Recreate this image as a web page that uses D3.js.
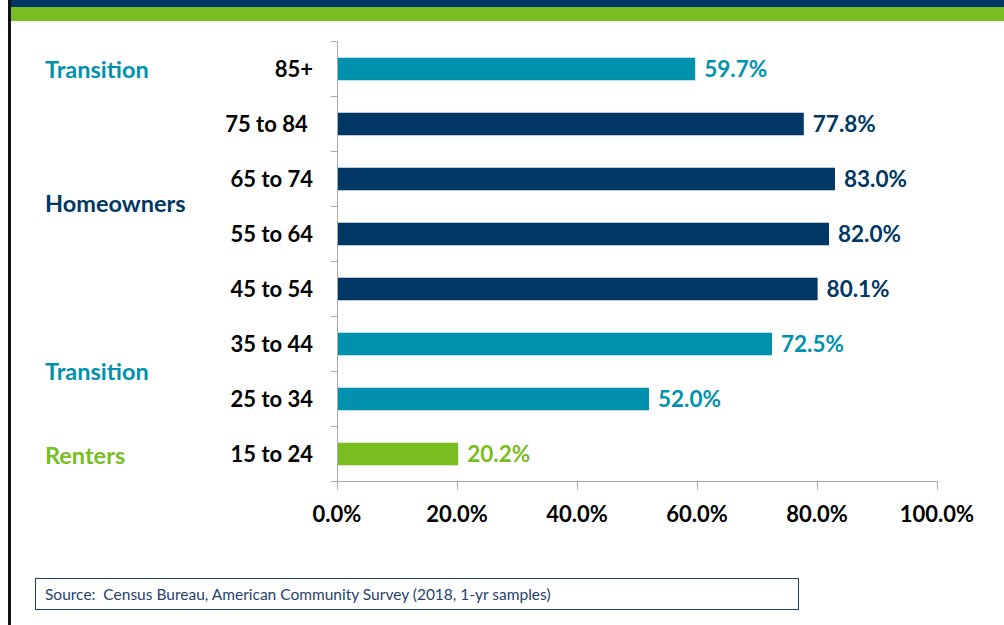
<!DOCTYPE html>
<html>
<head>
<meta charset="utf-8">
<script src="https://cdn.jsdelivr.net/npm/d3@7"></script>
<style>
body { margin:0; background:#fff; }
svg { display:block; font-family: Lato, "Open Sans", sans-serif; }
</style>
</head>
<body>
<div id="chart"></div>
<script>
const ages = ["85+", "75 to 84 ", "65 to 74", "55 to 64", "45 to 54", "35 to 44", "25 to 34", "15 to 24"];
const shares = [59.7, 77.8, 83.0, 82.0, 80.1, 72.5, 52.0, 20.2];
const groups = ["transition", "owner", "owner", "owner", "owner", "transition", "transition", "renter"];
const xTicks = [0, 20, 40, 60, 80, 100];
const groupLabels = [
    {text:"Transition", group:"transition", y:70},
    {text:"Homeowners", group:"owner", y:204},
    {text:"Transition", group:"transition", y:372},
    {text:"Renters", group:"renter", y:456}
];
const source = "Source:  Census Bureau, American Community Survey (2018, 1-yr samples)";

const colores = {transition:"#0091AF", owner:"#003764", renter:"#78BE21"};

const W = 1004, H = 625;
const svg = d3.select("#chart").append("svg").attr("width",W).attr("height",H);

// header bands and left rule
svg.append("rect").attr("x",11).attr("y",0).attr("width",W-11).attr("height",7).attr("fill","#003764");
svg.append("rect").attr("x",11).attr("y",7).attr("width",W-11).attr("height",14).attr("fill","#78BE21");
svg.append("rect").attr("x",8).attr("y",0).attr("width",3).attr("height",H).attr("fill","#111");

const yTop = 41.5, yBottom = 481.5;
const scx = d3.scaleLinear([0,100],[337,937]);
const scy = d3.scaleBand(ages,[yTop,yBottom]).paddingInner(0.59).paddingOuter(0.295);
const band = d3.scaleBand(ages,[yTop,yBottom]);

const g = svg.append("g");

// bars
g.selectAll(".barra")
    .data(ages)
    .join("rect")
    .attr("class","barra")
    .attr("x",scx(0))
    .attr("y",d => scy(d))
    .attr("width",(d,i) => scx(shares[i]) - scx(0))
    .attr("height",scy.bandwidth())
    .attr("fill",(d,i) => colores[groups[i]]);

// axes
const axisColor = "#A7A9B4";
g.append("line").attr("x1",scx(0)+0.5).attr("x2",scx(0)+0.5).attr("y1",yTop).attr("y2",yBottom)
    .attr("stroke",axisColor).attr("stroke-width",1);
g.append("line").attr("x1",scx(0)-6).attr("x2",scx(100)+0.5).attr("y1",yBottom).attr("y2",yBottom)
    .attr("stroke",axisColor).attr("stroke-width",1);

g.selectAll(".ytick")
    .data(ages)
    .join("line")
    .attr("class","ytick")
    .attr("x1",scx(0)-6).attr("x2",scx(0))
    .attr("y1",d => band(d)).attr("y2",d => band(d))
    .attr("stroke",axisColor);

g.selectAll(".xtick")
    .data(xTicks)
    .join("line")
    .attr("class","xtick")
    .attr("x1",d => scx(d)+0.5).attr("x2",d => scx(d)+0.5)
    .attr("y1",yBottom).attr("y2",yBottom+8)
    .attr("stroke",axisColor);

g.selectAll(".xlab")
    .data(xTicks)
    .join("text")
    .attr("class","xlab")
    .attr("x",d => scx(d))
    .attr("y",522)
    .attr("text-anchor","middle")
    .attr("font-size",22)
    .attr("font-weight","bold")
    .attr("fill","#000")
    .text(d => d3.format(".1f")(d) + "%");

// category labels
g.selectAll(".ylab")
    .data(ages)
    .join("text")
    .attr("class","ylab")
    .attr("x",313)
    .attr("y",d => band(d) + band.bandwidth()/2)
    .attr("dy","0.35em")
    .attr("text-anchor","end")
    .attr("font-size",22)
    .attr("font-weight","bold")
    .attr("fill","#000")
    .attr("xml:space","preserve")
    .style("white-space","pre")
    .text(d => d);

// value labels
g.selectAll(".vlab")
    .data(ages)
    .join("text")
    .attr("class","vlab")
    .attr("x",(d,i) => scx(shares[i]) + 9)
    .attr("y",d => band(d) + band.bandwidth()/2)
    .attr("dy","0.35em")
    .attr("font-size",22.5)
    .attr("font-weight","bold")
    .attr("fill",(d,i) => colores[groups[i]])
    .text((d,i) => d3.format(".1f")(shares[i]) + "%");

// group labels
g.selectAll(".glab")
    .data(groupLabels)
    .join("text")
    .attr("class","glab")
    .attr("x",45)
    .attr("y",d => d.y)
    .attr("dy","0.35em")
    .attr("font-size",23.5)
    .attr("font-weight","bold")
    .attr("fill",d => colores[d.group])
    .text(d => d.text);

// source box
svg.append("rect").attr("x",35.5).attr("y",578.5).attr("width",763).attr("height",31)
    .attr("fill","none").attr("stroke","#1F3F6E").attr("stroke-width",1);
svg.append("text").attr("x",45).attr("y",600)
    .attr("font-size",15.5).attr("fill","#1F3F6E")
    .attr("xml:space","preserve")
    .text(source);
</script>
</body>
</html>
